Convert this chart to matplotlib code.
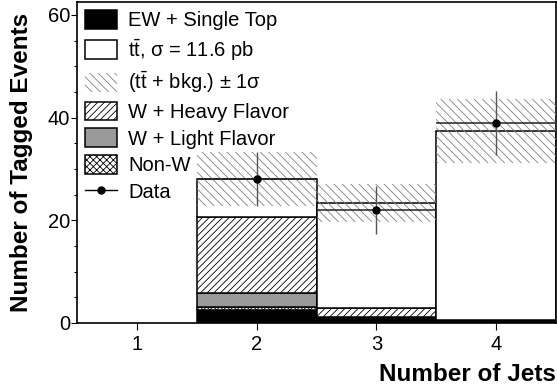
import matplotlib
matplotlib.use("Agg")
import matplotlib.pyplot as plt
from matplotlib.patches import Patch
from matplotlib.lines import Line2D
import numpy as np

plt.rcParams['font.family'] = ['Liberation Sans', 'DejaVu Sans']
plt.rcParams['mathtext.fontset'] = 'custom'
plt.rcParams['mathtext.rm'] = 'Liberation Sans'
plt.rcParams['mathtext.it'] = 'Liberation Sans:italic'
plt.rcParams['mathtext.bf'] = 'Liberation Sans:bold'
plt.rcParams['hatch.linewidth'] = 0.6

# Jet-multiplicity bins
n_jets = [1, 2, 3, 4]
jet_labels = ['1', '2', '3', '4']

# Stacked background / signal expectations per bin
ew_single_top = [0.0, 2.5, 0.8, 0.5]
non_w = [0.0, 0.7, 0.1, 0.0]
w_light = [0.0, 2.6, 0.3, 0.0]
w_heavy = [0.0, 14.8, 1.7, 0.0]
ttbar = [0.0, 7.4, 20.5, 36.9]

# Total-prediction uncertainty (1 sigma)
total_err = [0.0, 5.3, 3.75, 6.2]

# Observed data
data_x = [2, 3, 4]
data_y = [28, 22, 39]
data_err = [5.3, 4.7, 6.2]

fig = plt.figure(figsize=(5.57, 3.87), dpi=100)
ax = fig.add_axes([77 / 557, (387 - 323) / 387, (556 - 77) / 557, (323 - 2) / 387])

x = np.array(n_jets, dtype=float)
layers = [
    (ew_single_top, dict(facecolor='black', edgecolor='black')),
    (non_w, dict(facecolor='white', edgecolor='black', hatch='xxxxx')),
    (w_light, dict(facecolor='#999999', edgecolor='black')),
    (w_heavy, dict(facecolor='white', edgecolor='black', hatch='/////')),
    (ttbar, dict(facecolor='white', edgecolor='black')),
]
bottom = np.zeros(len(x))
for vals, style in layers:
    vals = np.array(vals)
    mask = vals > 0
    ax.bar(x[mask], vals[mask], width=1.0, bottom=bottom[mask], linewidth=1.1,
           zorder=2, **style)
    bottom = bottom + vals

total = bottom
err = np.array(total_err)
mask = err > 0
ax.bar(x[mask], 2 * err[mask], width=1.0, bottom=(total - err)[mask],
       facecolor='none', edgecolor='#808080', hatch='\\\\\\\\', linewidth=0, zorder=3)

# Data: horizontal bin-width bars and Poisson vertical errors
ax.errorbar(data_x, data_y, xerr=0.5, fmt='none', ecolor='#222222', elinewidth=1.1, zorder=4)
ax.errorbar(data_x, data_y, yerr=data_err, fmt='o', color='black', ms=5,
            ecolor='#555555', elinewidth=1.0, capsize=0, zorder=5)

ax.set_xlim(0.5, 4.5)
ax.set_ylim(0, 62.5)
ax.set_xticks(n_jets)
ax.set_xticklabels(jet_labels)
ax.set_yticks([0, 20, 40, 60])
ax.set_yticks(np.arange(0, 61, 5), minor=True)
ax.tick_params(axis='y', which='major', direction='out', length=4, width=0.8, labelsize=14.5, pad=1)
ax.tick_params(axis='y', which='minor', direction='out', length=2.5, width=0.8)
ax.tick_params(axis='x', which='major', direction='out', length=5, width=0.8, labelsize=14.5, pad=4)
for s in ax.spines.values():
    s.set_linewidth(1.2)

ax.set_xlabel('Number of Jets', fontsize=17.5, fontweight='bold', ha='right')
ax.xaxis.set_label_coords(1.0, -0.125)
ax.set_ylabel('Number of Tagged Events', fontsize=17.5, fontweight='bold')
ax.yaxis.set_label_coords(-0.092, 0.5)

handles = [
    Patch(facecolor='black', edgecolor='black', linewidth=1.1),
    Patch(facecolor='white', edgecolor='black', linewidth=1.1),
    Patch(facecolor='none', edgecolor='#808080', hatch='\\\\\\\\', linewidth=0),
    Patch(facecolor='white', edgecolor='black', hatch='/////', linewidth=1.1),
    Patch(facecolor='#999999', edgecolor='black', linewidth=1.1),
    Patch(facecolor='white', edgecolor='black', hatch='xxxxx', linewidth=1.1),
    Line2D([0], [0], color='black', marker='o', ms=5, lw=1.0),
]
labels = [
    'EW + Single Top',
    r'$\mathrm{t\bar{t}}$, σ = 11.6 pb',
    r'($\mathrm{t\bar{t}}$ + bkg.) ± 1σ',
    'W + Heavy Flavor',
    'W + Light Flavor',
    'Non-W',
    'Data',
]
ax.legend(handles, labels, loc='upper left', bbox_to_anchor=(0.0, 1.0), frameon=False,
          fontsize=14.5, handlelength=1.6, handleheight=1.05, labelspacing=0.325,
          handletextpad=0.55, borderaxespad=0.25, borderpad=0.15)

fig.savefig('out.png', dpi=100)
